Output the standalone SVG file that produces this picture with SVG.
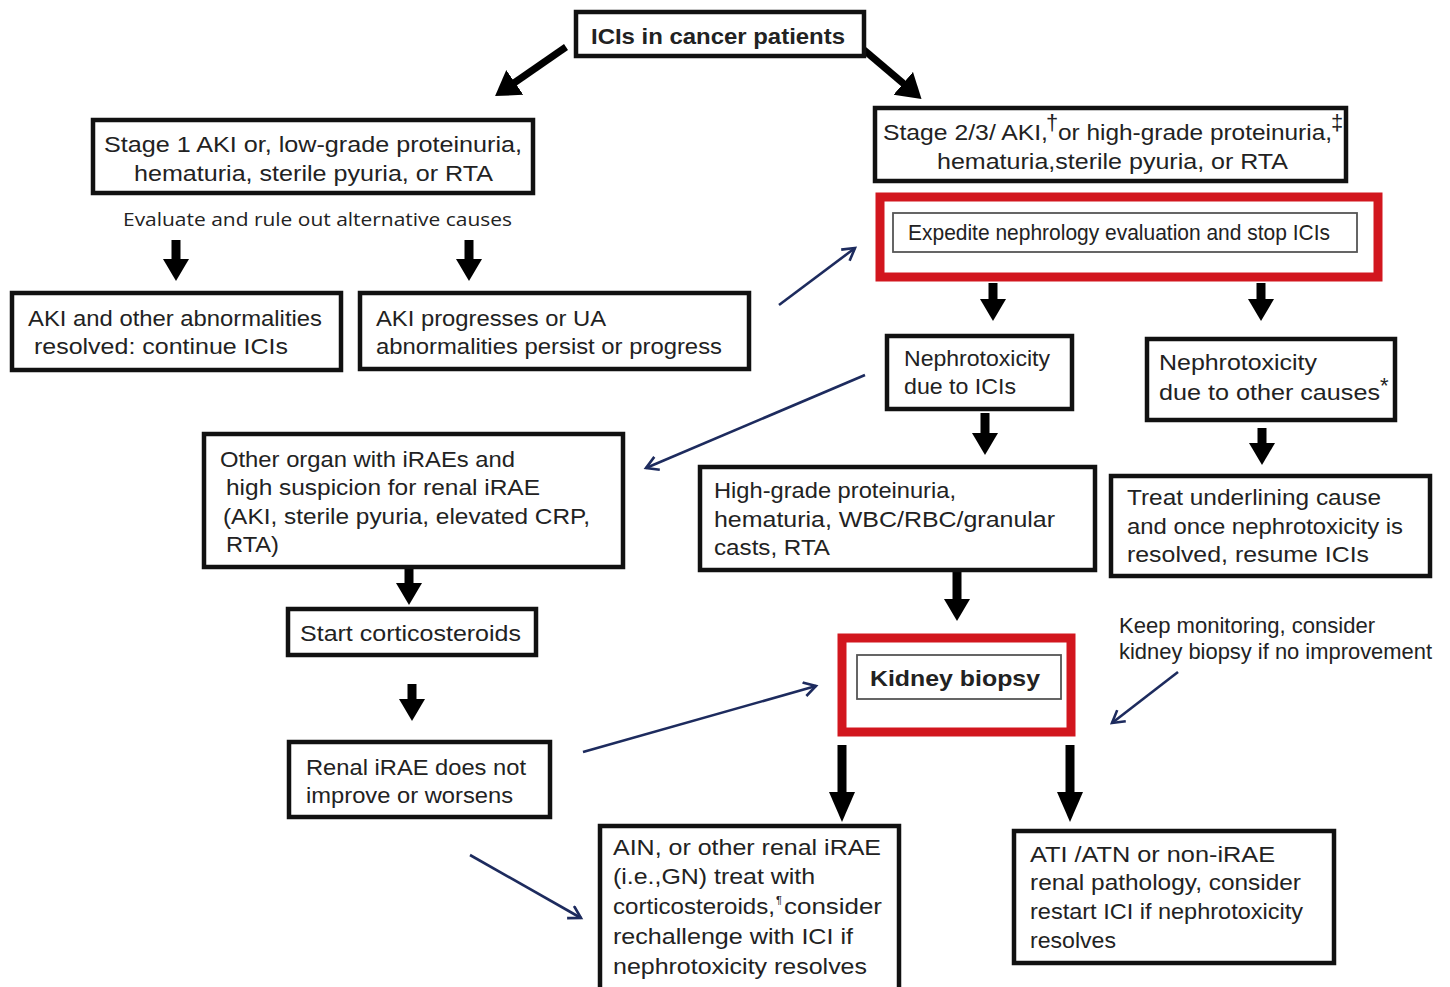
<svg xmlns="http://www.w3.org/2000/svg" width="1450" height="987" viewBox="0 0 1450 987">
<defs>
<style>
.box{fill:#fff;stroke:#111;stroke-width:4.5}
.red{fill:#fff;stroke:#d2161e;stroke-width:9}
.inner{fill:#fff;stroke:#555;stroke-width:1.8}
.t{font-family:"Liberation Sans",Arial,sans-serif;font-size:22px;fill:#222}
.b{font-weight:bold}
.c{font-family:"Open Sans","Liberation Sans",sans-serif;font-size:19px;fill:#222}
.blk{stroke:#000;stroke-width:9;fill:none}
.thk{stroke:#000;stroke-width:7;fill:none}
.blu{stroke:#1d2b5e;stroke-width:2.6;fill:none}
</style>
<marker id="bh" markerUnits="userSpaceOnUse" markerWidth="30" markerHeight="30" refX="1" refY="13" orient="auto"><path d="M0,0 L22,13 L0,26 z" fill="#000"/></marker>
<marker id="bh2" markerUnits="userSpaceOnUse" markerWidth="36" markerHeight="30" refX="1" refY="13" orient="auto"><path d="M0,0 L30,13 L0,26 z" fill="#000"/></marker>
<marker id="th" markerUnits="userSpaceOnUse" markerWidth="30" markerHeight="34" refX="1" refY="15" orient="auto"><path d="M0,0 L24,15 L0,30 z" fill="#000"/></marker>
<marker id="ah" markerUnits="userSpaceOnUse" markerWidth="20" markerHeight="20" refX="13" refY="8" orient="auto"><path d="M1,1 L13,8 L1,15" fill="none" stroke="#1d2b5e" stroke-width="2.6"/></marker>
</defs>

<g id="connectors">
<path class="thk" d="M566,47 L514,83" marker-end="url(#th)"/>
<path class="thk" d="M864,50 L904,84" marker-end="url(#th)"/>
<path class="blk" d="M176,240 V260" marker-end="url(#bh)"/>
<path class="blk" d="M469,240 V260" marker-end="url(#bh)"/>
<path class="blk" d="M993,283 V300" marker-end="url(#bh)"/>
<path class="blk" d="M1261,283 V300" marker-end="url(#bh)"/>
<path class="blk" d="M985,413 V434" marker-end="url(#bh)"/>
<path class="blk" d="M1262,428 V444" marker-end="url(#bh)"/>
<path class="blk" d="M409,568 V584" marker-end="url(#bh)"/>
<path class="blk" d="M412,684 V700" marker-end="url(#bh)"/>
<path class="blk" d="M957,552 V600" marker-end="url(#bh)"/>
<path class="blk" d="M842,745 V793" marker-end="url(#bh2)"/>
<path class="blk" d="M1070,745 V793" marker-end="url(#bh2)"/>
<path class="blu" d="M779,305 L855,248" marker-end="url(#ah)"/>
<path class="blu" d="M865,375 L646,468" marker-end="url(#ah)"/>
<path class="blu" d="M583,752 L816,686" marker-end="url(#ah)"/>
<path class="blu" d="M1178,672 L1112,723" marker-end="url(#ah)"/>
<path class="blu" d="M470,855 L581,918" marker-end="url(#ah)"/>
</g>

<g id="n-root">
<rect class="box" x="576" y="12" width="288" height="44"/>
<text class="t b" x="591" y="44" textLength="254" lengthAdjust="spacingAndGlyphs">ICIs in cancer patients</text>
</g>

<g id="n-stage1">
<rect class="box" x="93" y="120" width="440" height="73"/>
<text class="t" x="104" y="152" textLength="418" lengthAdjust="spacingAndGlyphs">Stage 1 AKI or, low-grade proteinuria,</text>
<text class="t" x="134" y="181" textLength="359" lengthAdjust="spacingAndGlyphs">hematuria, sterile pyuria, or RTA</text>
</g>

<g id="n-evaluate">
<text class="c" x="123" y="226" textLength="389" lengthAdjust="spacingAndGlyphs">Evaluate and rule out alternative causes</text>
</g>

<g id="n-resolved">
<rect class="box" x="12" y="293" width="329" height="77"/>
<text class="t" x="28" y="326" textLength="294" lengthAdjust="spacingAndGlyphs">AKI and other abnormalities</text>
<text class="t" x="34" y="354" textLength="254" lengthAdjust="spacingAndGlyphs">resolved: continue ICIs</text>
</g>

<g id="n-progress">
<rect class="box" x="360" y="293" width="389" height="76"/>
<text class="t" x="376" y="326" textLength="230" lengthAdjust="spacingAndGlyphs">AKI progresses or UA</text>
<text class="t" x="376" y="354" textLength="346" lengthAdjust="spacingAndGlyphs">abnormalities persist or progress</text>
</g>

<g id="n-stage23">
<rect class="box" x="875" y="108" width="471" height="73"/>
<text class="t" x="883" y="140" textLength="165" lengthAdjust="spacingAndGlyphs">Stage 2/3/ AKI,</text>
<text class="t" x="1046" y="130" font-size="12">†</text>
<text class="t" x="1058" y="140" textLength="274" lengthAdjust="spacingAndGlyphs">or high-grade proteinuria,</text>
<text class="t" x="1331" y="130" font-size="12">‡</text>
<text class="t" x="937" y="169" textLength="351" lengthAdjust="spacingAndGlyphs">hematuria,sterile pyuria, or RTA</text>
</g>

<g id="n-expedite">
<rect class="red" x="880" y="197" width="498" height="80"/>
<rect class="inner" x="893" y="213" width="464" height="39"/>
<text class="t" x="908" y="240" font-size="20" textLength="422" lengthAdjust="spacingAndGlyphs">Expedite nephrology evaluation and stop ICIs</text>
</g>

<g id="n-neph-ici">
<rect class="box" x="887" y="336" width="185" height="73"/>
<text class="t" x="904" y="366" textLength="146" lengthAdjust="spacingAndGlyphs">Nephrotoxicity</text>
<text class="t" x="904" y="394" textLength="112" lengthAdjust="spacingAndGlyphs">due to ICIs</text>
</g>

<g id="n-neph-other">
<rect class="box" x="1147" y="339" width="248" height="81"/>
<text class="t" x="1159" y="370" textLength="158" lengthAdjust="spacingAndGlyphs">Nephrotoxicity</text>
<text class="t" x="1159" y="400" textLength="221" lengthAdjust="spacingAndGlyphs">due to other causes</text>
<text class="t" x="1380" y="393" font-size="12">*</text>
</g>

<g id="n-other-organ">
<rect class="box" x="204" y="434" width="419" height="133"/>
<text class="t" x="220" y="467" textLength="295" lengthAdjust="spacingAndGlyphs">Other organ with iRAEs and</text>
<text class="t" x="226" y="495" textLength="314" lengthAdjust="spacingAndGlyphs">high suspicion for  renal iRAE</text>
<text class="t" x="223" y="524" textLength="367" lengthAdjust="spacingAndGlyphs">(AKI, sterile pyuria, elevated CRP,</text>
<text class="t" x="226" y="552" textLength="53" lengthAdjust="spacingAndGlyphs">RTA)</text>
</g>

<g id="n-highgrade">
<rect class="box" x="700" y="467" width="395" height="103"/>
<text class="t" x="714" y="498" textLength="242" lengthAdjust="spacingAndGlyphs">High-grade proteinuria,</text>
<text class="t" x="714" y="527" textLength="341" lengthAdjust="spacingAndGlyphs">hematuria, WBC/RBC/granular</text>
<text class="t" x="714" y="555" textLength="116" lengthAdjust="spacingAndGlyphs">casts, RTA</text>
</g>

<g id="n-treat">
<rect class="box" x="1111" y="476" width="319" height="100"/>
<text class="t" x="1127" y="505" textLength="254" lengthAdjust="spacingAndGlyphs">Treat underlining  cause</text>
<text class="t" x="1127" y="534" textLength="276" lengthAdjust="spacingAndGlyphs">and once nephrotoxicity is</text>
<text class="t" x="1127" y="562" textLength="242" lengthAdjust="spacingAndGlyphs">resolved, resume ICIs</text>
</g>

<g id="n-steroids">
<rect class="box" x="288" y="609" width="248" height="46"/>
<text class="t" x="300" y="641" textLength="221" lengthAdjust="spacingAndGlyphs">Start corticosteroids</text>
</g>

<g id="n-renal-worse">
<rect class="box" x="289" y="742" width="261" height="75"/>
<text class="t" x="306" y="775" textLength="220" lengthAdjust="spacingAndGlyphs">Renal iRAE does not</text>
<text class="t" x="306" y="803" textLength="207" lengthAdjust="spacingAndGlyphs">improve or worsens</text>
</g>

<g id="n-biopsy">
<rect class="red" x="842" y="638" width="229" height="94"/>
<rect class="inner" x="857" y="655" width="204" height="44"/>
<text class="t b" x="870" y="686" textLength="170" lengthAdjust="spacingAndGlyphs">Kidney biopsy</text>
</g>

<g id="n-keep">
<text class="t" x="1119" y="633" font-size="19" textLength="256" lengthAdjust="spacingAndGlyphs">Keep monitoring, consider</text>
<text class="t" x="1119" y="659" font-size="19" textLength="313" lengthAdjust="spacingAndGlyphs">kidney biopsy if no improvement</text>
</g>

<g id="n-ain">
<rect class="box" x="600" y="826" width="299" height="165"/>
<text class="t" x="613" y="855" textLength="268" lengthAdjust="spacingAndGlyphs">AIN, or other renal iRAE</text>
<text class="t" x="613" y="884" textLength="202" lengthAdjust="spacingAndGlyphs">(i.e.,GN) treat with</text>
<text class="t" x="613" y="914"><tspan textLength="162" lengthAdjust="spacingAndGlyphs">corticosteroids,</tspan><tspan x="776" y="904" font-size="11">¶</tspan><tspan x="784" y="914" textLength="98" lengthAdjust="spacingAndGlyphs">consider</tspan></text>
<text class="t" x="613" y="944" textLength="240" lengthAdjust="spacingAndGlyphs">rechallenge with ICI if</text>
<text class="t" x="613" y="974" textLength="254" lengthAdjust="spacingAndGlyphs">nephrotoxicity resolves</text>
</g>

<g id="n-ati">
<rect class="box" x="1014" y="831" width="320" height="132"/>
<text class="t" x="1030" y="862" textLength="245" lengthAdjust="spacingAndGlyphs">ATI /ATN or non-iRAE</text>
<text class="t" x="1030" y="890" textLength="271" lengthAdjust="spacingAndGlyphs">renal  pathology, consider</text>
<text class="t" x="1030" y="919" textLength="273" lengthAdjust="spacingAndGlyphs">restart ICI  if nephrotoxicity</text>
<text class="t" x="1030" y="948" textLength="86" lengthAdjust="spacingAndGlyphs">resolves</text>
</g>
</svg>
